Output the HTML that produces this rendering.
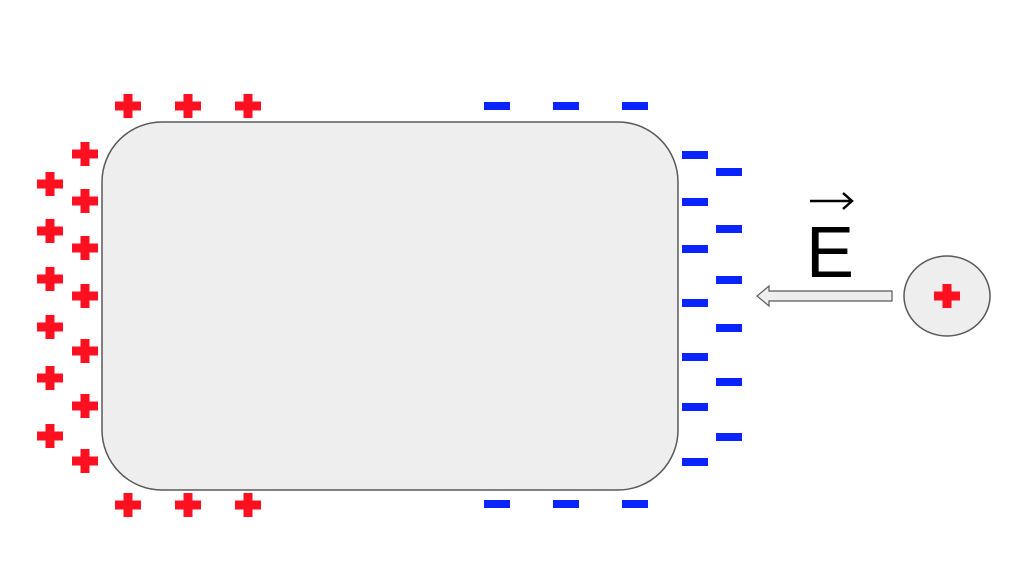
<!DOCTYPE html>
<html><head><style>body{margin:0;background:#fff}</style></head><body>
<svg width="1026" height="564" xmlns="http://www.w3.org/2000/svg">
<defs>
<g id="p"><rect x="-13" y="-4.5" width="26" height="9" fill="#ff1020"/><rect x="-4.5" y="-12" width="9" height="24" fill="#ff1020"/></g>
<rect id="m" x="-13" y="-4" width="26" height="8" fill="#0a24ff"/>
</defs>
<rect x="102" y="122" width="576" height="368" rx="60" fill="#eeeeee" stroke="#595959" stroke-width="1.5"/>
<g>
<use href="#p" x="128" y="106"/><use href="#p" x="188" y="106"/><use href="#p" x="248" y="106"/>
<use href="#p" x="128" y="505"/><use href="#p" x="188" y="505"/><use href="#p" x="248" y="505"/>
<use href="#p" x="85" y="154"/><use href="#p" x="85" y="201"/><use href="#p" x="85" y="248"/><use href="#p" x="85" y="296"/><use href="#p" x="85" y="351"/><use href="#p" x="85" y="406"/><use href="#p" x="85" y="461"/>
<use href="#p" x="50" y="184"/><use href="#p" x="50" y="231"/><use href="#p" x="50" y="279"/><use href="#p" x="50" y="327"/><use href="#p" x="50" y="378"/><use href="#p" x="50" y="436"/>
<use href="#m" x="497" y="106"/><use href="#m" x="566" y="106"/><use href="#m" x="635" y="106"/>
<use href="#m" x="497" y="504"/><use href="#m" x="566" y="504"/><use href="#m" x="635" y="504"/>
<use href="#m" x="695" y="155"/><use href="#m" x="695" y="202"/><use href="#m" x="695" y="249"/><use href="#m" x="695" y="303"/><use href="#m" x="695" y="357"/><use href="#m" x="695" y="407"/><use href="#m" x="695" y="462"/>
<use href="#m" x="729" y="172"/><use href="#m" x="729" y="229"/><use href="#m" x="729" y="280"/><use href="#m" x="729" y="328"/><use href="#m" x="729" y="382"/><use href="#m" x="729" y="437"/>
</g>
<polygon points="892,291 769,291 769,286 757,296 769,306 769,301 892,301" fill="#eeeeee" stroke="#595959" stroke-width="1.2"/>
<ellipse cx="947" cy="296" rx="43" ry="40" fill="#eeeeee" stroke="#595959" stroke-width="1.5"/>
<use href="#p" x="947" y="296"/>
<text x="806" y="277" font-family="Liberation Sans, sans-serif" font-size="72" fill="#000">E</text>
<line x1="810" y1="201" x2="850" y2="201" stroke="#000" stroke-width="2.5"/>
<polyline points="843,193 852,201 843,209" fill="none" stroke="#000" stroke-width="2.5"/>
</svg>
</body></html>
